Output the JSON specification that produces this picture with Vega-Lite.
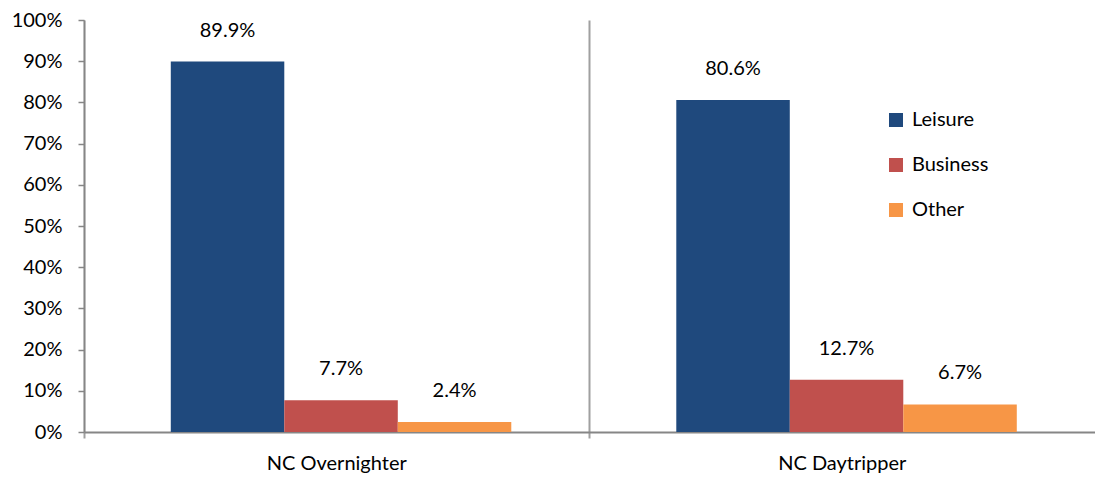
{
  "$schema": "https://vega.github.io/schema/vega-lite/v6.json",
  "autosize": {"type": "none"},
  "width": 1011,
  "height": 412,
  "padding": {"left": 84, "top": 20, "right": 0, "bottom": 45},
  "background": "white",
  "config": {"view": {"stroke": null}, "font": "Lato"},
  "data": {"values": [
    {"segment": "NC Overnighter", "purpose": "Leisure", "share": 0.899, "label": "89.9%"},
    {"segment": "NC Overnighter", "purpose": "Business", "share": 0.077, "label": "7.7%"},
    {"segment": "NC Overnighter", "purpose": "Other", "share": 0.024, "label": "2.4%"},
    {"segment": "NC Daytripper", "purpose": "Leisure", "share": 0.806, "label": "80.6%"},
    {"segment": "NC Daytripper", "purpose": "Business", "share": 0.127, "label": "12.7%"},
    {"segment": "NC Daytripper", "purpose": "Other", "share": 0.067, "label": "6.7%"}
  ]},
  "encoding": {
    "x": {"field": "segment", "type": "nominal", "sort": ["NC Overnighter", "NC Daytripper"],
      "scale": {"paddingInner": 0, "paddingOuter": 0},
      "axis": {"title": null, "labelAngle": 0, "labelFontSize": 20, "labelColor": "#000000", "labelPadding": 15,
        "domainColor": "#868686", "domainWidth": 2, "tickColor": "#a0a0a0", "tickWidth": 2, "tickSize": 6,
        "bandPosition": 0, "grid": true, "gridColor": "#a0a0a0", "gridWidth": 2}},
    "xOffset": {"field": "purpose", "type": "nominal", "sort": ["Leisure", "Business", "Other"],
      "scale": {"paddingInner": 0, "paddingOuter": 0.7269, "align": 0.526}},
    "y": {"field": "share", "type": "quantitative",
      "scale": {"domain": [0, 1]},
      "axis": {"title": null, "format": ".0%", "values": [0, 0.1, 0.2, 0.3, 0.4, 0.5, 0.6, 0.7, 0.8, 0.9, 1],
        "labelOverlap": false, "grid": false, "labelFontSize": 20, "labelColor": "#000000", "labelPadding": 16,
        "domainColor": "#868686", "domainWidth": 1.5, "tickColor": "#868686", "tickWidth": 1.5, "tickSize": 6}}
  },
  "layer": [
    {"mark": {"type": "bar"},
      "encoding": {
        "color": {"field": "purpose", "type": "nominal", "sort": ["Leisure", "Business", "Other"],
          "scale": {"domain": ["Leisure", "Business", "Other"], "range": ["#1F497D", "#C0504D", "#F79646"]},
          "legend": {"title": null, "orient": "none", "legendX": 802, "legendY": 90, "symbolType": "square",
            "symbolSize": 196, "symbolOpacity": 1, "labelFontSize": 20, "labelColor": "#000000", "rowPadding": 25, "labelOffset": 6}}
      }},
    {"mark": {"type": "text", "baseline": "alphabetic", "dy": -25, "fontSize": 20, "color": "#000000"},
      "encoding": {"text": {"field": "label"}}}
  ]
}
